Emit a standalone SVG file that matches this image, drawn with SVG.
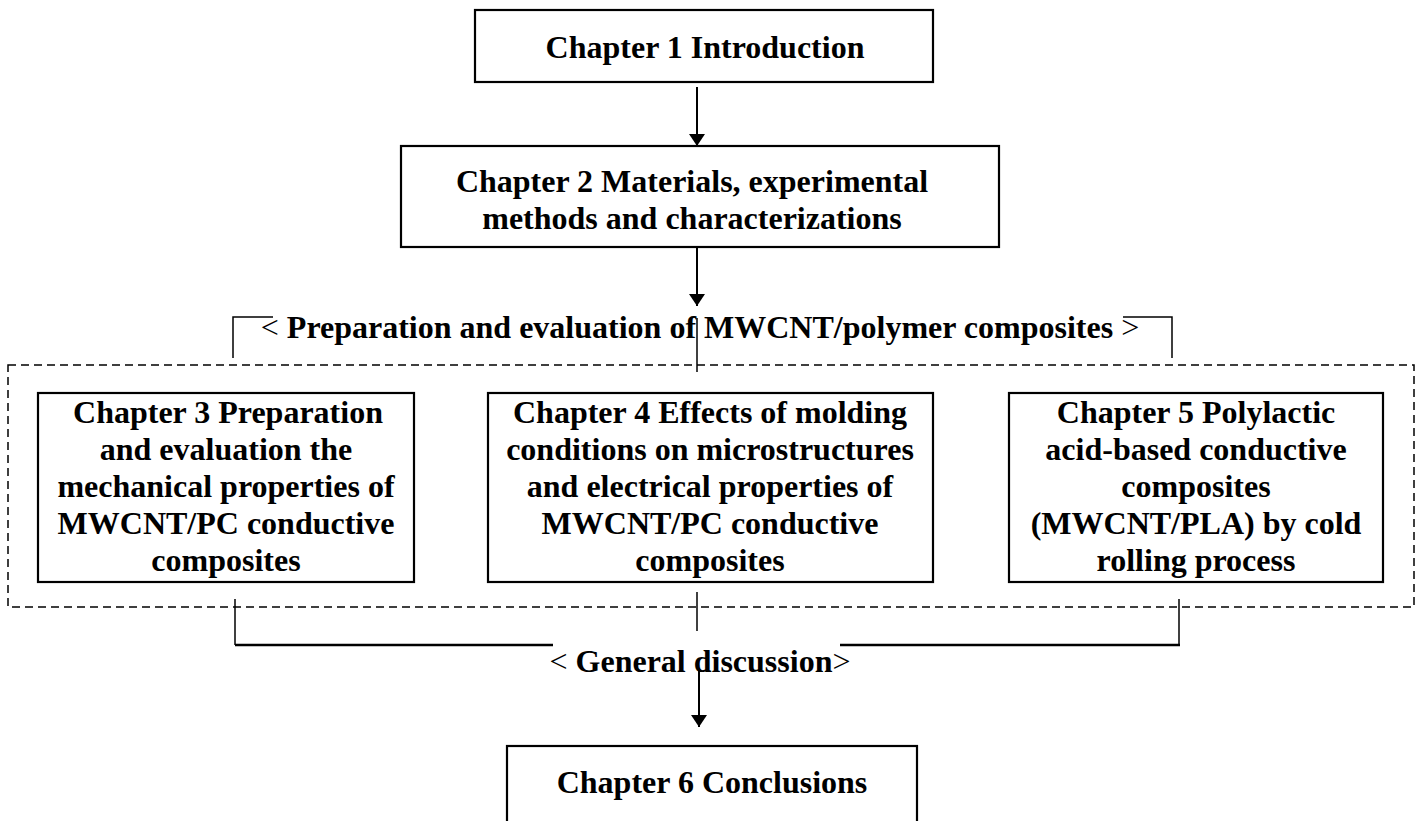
<svg xmlns="http://www.w3.org/2000/svg" width="1424" height="821" viewBox="0 0 1424 821">
<defs>
<style>
.box{fill:#fff;stroke:#000;stroke-width:2.2}
.t{font-family:"Liberation Serif","Times New Roman",serif;font-size:32px;font-weight:bold;fill:#000;text-anchor:middle}
.n{font-weight:normal}
.ln{stroke:#000;stroke-width:1.5;fill:none}
.lb{stroke:#000;stroke-width:2.5;fill:none}
.ar{stroke:#000;stroke-width:2;fill:none;marker-end:url(#ah)}
.dash{fill:none;stroke:#000;stroke-width:1.5;stroke-dasharray:8 5}
</style>
<marker id="ah" viewBox="0 0 12 16" refX="12" refY="8" markerWidth="12" markerHeight="16" markerUnits="userSpaceOnUse" orient="auto">
<path d="M0,0 L12,8 L0,16 Z" fill="#000"/>
</marker>
</defs>
<rect width="1424" height="821" fill="#fff"/>

<g id="connectors">
<line class="ar" x1="697" y1="87" x2="697" y2="146"/>
<line class="ar" x1="697" y1="248" x2="697" y2="306"/>
<line class="ln" x1="697" y1="318" x2="697" y2="372"/>
<polyline class="ln" points="233,358 233,317 273,317"/>
<polyline class="ln" points="1123,317 1172,317 1172,358"/>
<rect class="dash" x="8" y="365" width="1406" height="242"/>
<line class="ln" x1="235" y1="599" x2="235" y2="645"/>
<line class="ln" x1="697" y1="592" x2="697" y2="631"/>
<line class="ln" x1="1179" y1="599" x2="1179" y2="645"/>
<line class="lb" x1="235" y1="645" x2="553" y2="645"/>
<line class="lb" x1="840" y1="645" x2="1180" y2="645"/>
<line class="ar" x1="699" y1="668" x2="699" y2="727"/>
</g>

<g id="group-label">
<text class="t" x="700" y="338"><tspan class="n">&lt;</tspan> Preparation and evaluation of MWCNT/polymer composites <tspan class="n">&gt;</tspan></text>
</g>

<g id="discussion-label">
<text class="t" x="700" y="672"><tspan class="n">&lt;</tspan> General discussion<tspan class="n">&gt;</tspan></text>
</g>

<g id="ch1">
<rect class="box" x="475" y="10" width="458" height="72"/>
<text class="t" x="705" y="58">Chapter 1 Introduction</text>
</g>

<g id="ch2">
<rect class="box" x="401" y="146" width="598" height="101"/>
<text class="t" x="692" y="192">Chapter 2 Materials, experimental</text>
<text class="t" x="692" y="229">methods and characterizations</text>
</g>

<g id="ch3">
<rect class="box" x="38" y="393" width="376" height="189"/>
<text class="t" x="228" y="423">Chapter 3 Preparation</text>
<text class="t" x="226" y="460">and evaluation the</text>
<text class="t" x="226" y="497">mechanical properties of</text>
<text class="t" x="226" y="534">MWCNT/PC conductive</text>
<text class="t" x="226" y="571">composites</text>
</g>

<g id="ch4">
<rect class="box" x="488" y="393" width="445" height="189"/>
<text class="t" x="710" y="423">Chapter 4 Effects of molding</text>
<text class="t" x="710" y="460">conditions on microstructures</text>
<text class="t" x="710" y="497">and electrical properties of</text>
<text class="t" x="710" y="534">MWCNT/PC conductive</text>
<text class="t" x="710" y="571">composites</text>
</g>

<g id="ch5">
<rect class="box" x="1009" y="393" width="374" height="189"/>
<text class="t" x="1196" y="423">Chapter 5 Polylactic</text>
<text class="t" x="1196" y="460">acid-based conductive</text>
<text class="t" x="1196" y="497">composites</text>
<text class="t" x="1196" y="534">(MWCNT/PLA) by cold</text>
<text class="t" x="1196" y="571">rolling process</text>
</g>

<g id="ch6">
<rect class="box" x="507" y="746" width="410" height="90"/>
<text class="t" x="712" y="793">Chapter 6 Conclusions</text>
</g>
</svg>
